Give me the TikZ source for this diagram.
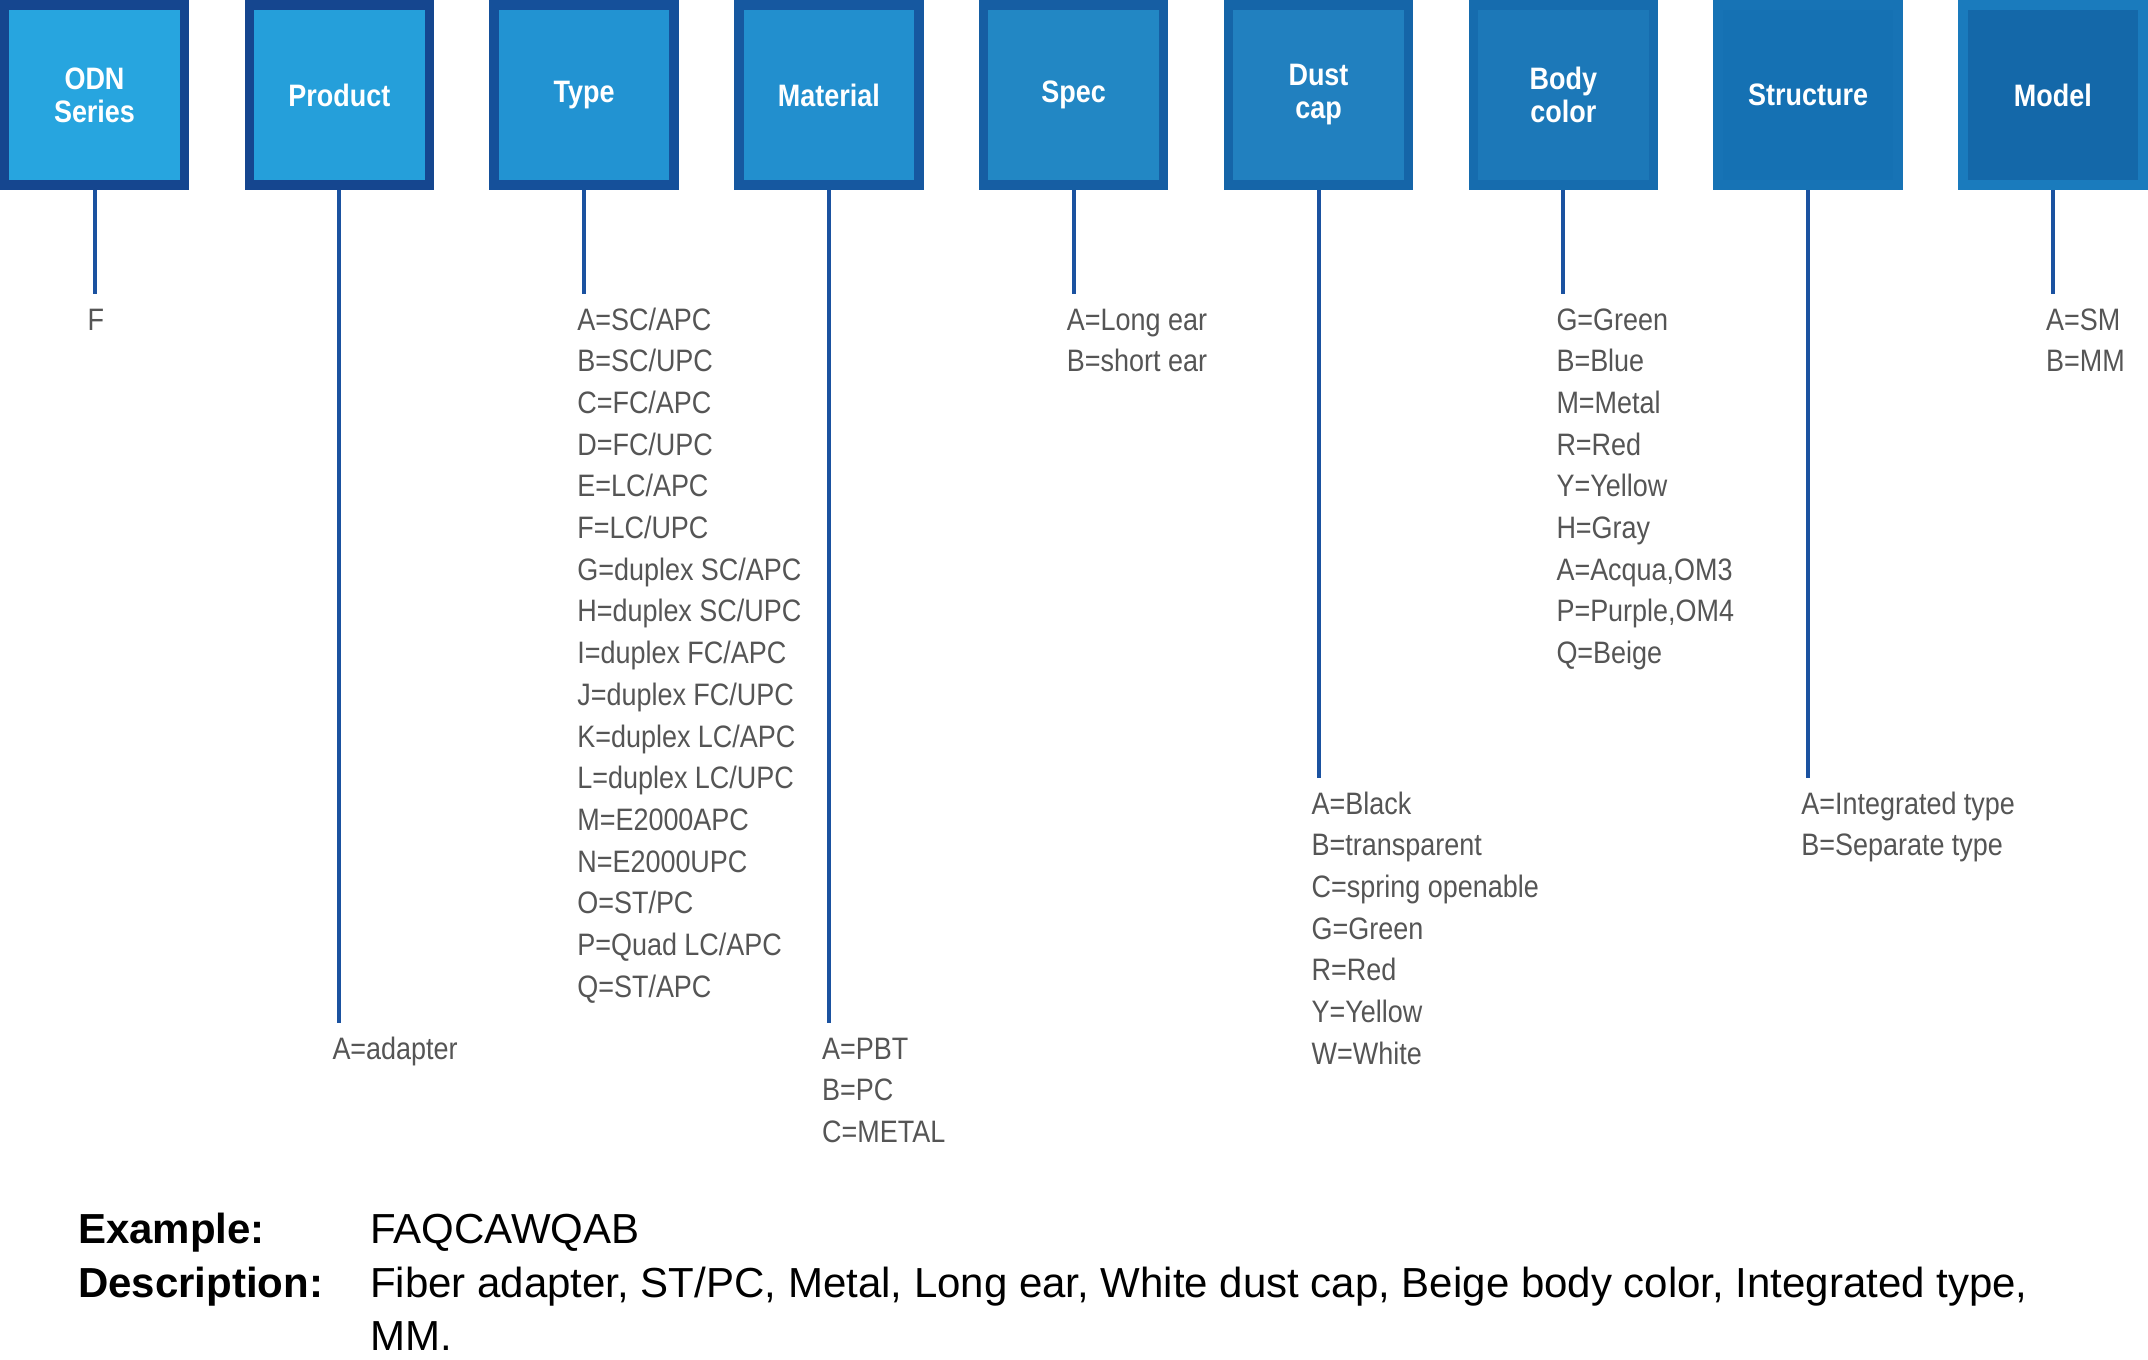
\documentclass[tikz,border=0pt]{standalone}
\usepackage{fontspec}
\setmainfont{Liberation Sans}
\newfontfamily\narrowfont[FakeStretch=0.87]{Liberation Sans}
\definecolor{fa}{HTML}{27A5DF}\definecolor{ba}{HTML}{15468F}
\definecolor{fb}{HTML}{259FDA}\definecolor{bb}{HTML}{15468F}
\definecolor{fc}{HTML}{2293D2}\definecolor{bc}{HTML}{15509A}
\definecolor{fd}{HTML}{228FCE}\definecolor{bd}{HTML}{1658A0}
\definecolor{fe}{HTML}{2287C4}\definecolor{be}{HTML}{165EA3}
\definecolor{ff}{HTML}{2180BF}\definecolor{bf}{HTML}{1565A8}
\definecolor{fg}{HTML}{1C78B8}\definecolor{bg}{HTML}{166CAE}
\definecolor{fh}{HTML}{1571B3}\definecolor{bh}{HTML}{1773B5}
\definecolor{fi}{HTML}{1468A9}\definecolor{bi}{HTML}{1A7BBD}
\definecolor{linec}{HTML}{1B52A0}
\definecolor{txtc}{HTML}{555555}
\newcommand\itemlist[1]{\begin{tabular}[t]{@{}l@{}}#1\end{tabular}}
\tikzset{
  catbox/.style={rectangle, inner sep=0pt, minimum width=180pt, minimum height=180pt,
    line width=9.5pt, text=white, align=center,
    font=\narrowfont\bfseries\fontsize{31}{33}\selectfont},
  listtext/.style={anchor=base west, inner sep=0pt, text=txtc,
    font=\narrowfont\fontsize{31}{41.7}\selectfont},
  conn/.style={draw=linec, line width=4pt, shorten >=7pt},
  bottomtext/.style={anchor=base west, inner sep=0pt, text=black,
    font=\fontsize{42}{53}\selectfont}
}
\begin{document}
\begin{tikzpicture}[x=1pt,y=-1pt]
\useasboundingbox (0,0) rectangle (2148,1360);
% boxes
\node[catbox, draw=ba, fill=fa] (b1) at (94.5,95) {ODN\\Series};
\node[catbox, draw=bb, fill=fb] (b2) at (339.3,95) {Product};
\node[catbox, draw=bc, fill=fc] (b3) at (584.1,95) {Type};
\node[catbox, draw=bd, fill=fd] (b4) at (828.9,95) {Material};
\node[catbox, draw=be, fill=fe] (b5) at (1073.7,95) {Spec};
\node[catbox, draw=bf, fill=ff] (b6) at (1318.5,95) {Dust\\cap};
\node[catbox, draw=bg, fill=fg] (b7) at (1563.3,95) {Body\\color};
\node[catbox, draw=bh, fill=fh] (b8) at (1808.1,95) {Structure};
\node[catbox, draw=bi, fill=fi] (b9) at (2052.9,95) {Model};
% lists
\node[listtext] (l1) at (87.5,330) {\itemlist{F}};
\node[listtext] (l2) at (332.3,1059) {\itemlist{A=adapter}};
\node[listtext] (l3) at (577.1,330) {\itemlist{A=SC/APC\\B=SC/UPC\\C=FC/APC\\D=FC/UPC\\E=LC/APC\\F=LC/UPC\\G=duplex SC/APC\\H=duplex SC/UPC\\I=duplex FC/APC\\J=duplex FC/UPC\\K=duplex LC/APC\\L=duplex LC/UPC\\M=E2000APC\\N=E2000UPC\\O=ST/PC\\P=Quad LC/APC\\Q=ST/APC}};
\node[listtext] (l4) at (821.9,1059) {\itemlist{A=PBT\\B=PC\\C=METAL}};
\node[listtext] (l5) at (1066.7,330) {\itemlist{A=Long ear\\B=short ear}};
\node[listtext] (l6) at (1311.5,814) {\itemlist{A=Black\\B=transparent\\C=spring openable\\G=Green\\R=Red\\Y=Yellow\\W=White}};
\node[listtext] (l7) at (1556.3,330) {\itemlist{G=Green\\B=Blue\\M=Metal\\R=Red\\Y=Yellow\\H=Gray\\A=Acqua,OM3\\P=Purple,OM4\\Q=Beige}};
\node[listtext] (l8) at (1801.1,814) {\itemlist{A=Integrated type\\B=Separate type}};
\node[listtext] (l9) at (2045.9,330) {\itemlist{A=SM\\B=MM}};
% connectors
\foreach \i in {1,...,9} {
  \draw[conn] (b\i.south) -- (b\i.south |- l\i.north);
}
% bottom
\node[bottomtext] (exl) at (78,1243) {\bfseries Example:};
\node[bottomtext] (exv) at (370,1243) {FAQCAWQAB};
\node[bottomtext] (dsl) at (78,1297) {\bfseries Description:};
\node[bottomtext] (dsv) at (370,1297) {\itemlist{Fiber adapter, ST/PC, Metal, Long ear, White dust cap, Beige body color, Integrated type,\\MM.}};
\end{tikzpicture}
\end{document}
